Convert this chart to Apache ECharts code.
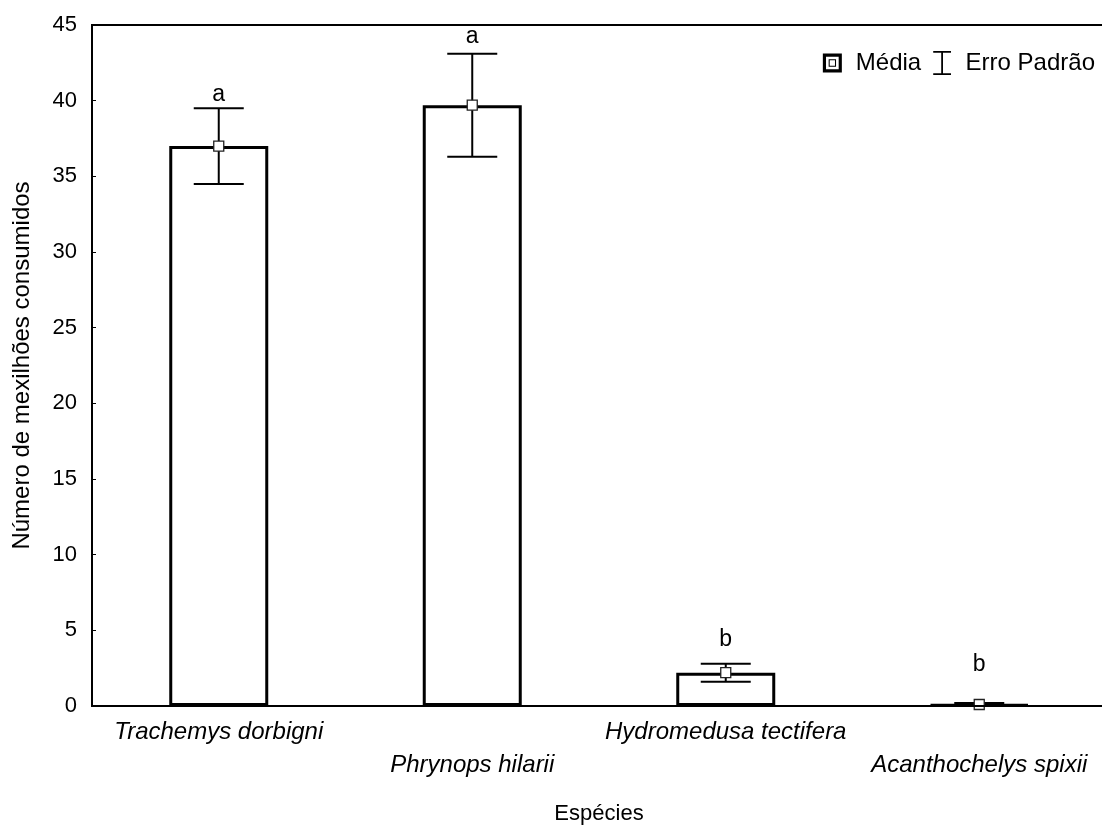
<!DOCTYPE html>
<html>
<head>
<meta charset="utf-8">
<script src="https://cdn.jsdelivr.net/npm/echarts@6/dist/echarts.min.js"></script>
<style>
  html, body { margin: 0; padding: 0; background: #fff; }
  #chart { width: 1102px; height: 825px; }
</style>
</head>
<body>
<div id="chart"></div>
<script>
// Mussels consumed per turtle species: mean ± standard error
const species = ['Trachemys dorbigni', 'Phrynops hilarii', 'Hydromedusa tectifera', 'Acanthochelys spixii'];
const means = [37.0, 39.7, 2.2, 0.1];
const stdErr = [2.5, 3.4, 0.6, 0.1];
const groupLetters = ['a', 'a', 'b', 'b'];
const letterLevel = [40.4, 44.2, 4.4, 2.7];
const yTicks = { min: 0, max: 45, step: 5 };

const FONT = "'Liberation Sans', Arial, sans-serif";

const errorData = species.map((s, i) => [i, means[i] - stdErr[i], means[i] + stdErr[i]]);
const letterData = species.map((s, i) => [i, letterLevel[i], groupLetters[i]]);

const chart = echarts.init(document.getElementById('chart'));

chart.setOption({
  backgroundColor: '#fff',
  animation: false,
  textStyle: { fontFamily: FONT, color: '#000' },
  grid: {
    left: 92, top: 25, width: 1014, height: 681,
    outerBoundsMode: 'none',
    containLabel: false,
    show: true, borderColor: '#000', borderWidth: 2, backgroundColor: 'transparent'
  },
  legend: {
    top: 46, right: 2,
    itemGap: 12,
    textStyle: { fontFamily: FONT, fontSize: 24, color: '#000', padding: [0, 0, 0, 9] },
    data: [
      {
        name: 'Média',
        icon: 'path://M0,0H18V18H0Z M3,3V15H15V3Z M5.5,5.5H12.5V12.5H5.5Z M6.5,6.5V11.5H11.5V6.5Z',
        itemStyle: { color: '#000', borderWidth: 0, opacity: 1 }
      },
      {
        name: 'Erro Padrão',
        icon: 'path://M0,0H20V2H0Z M9,2H11V25H9Z M0,25H20V27H0Z',
        itemStyle: { color: '#000', borderWidth: 0, opacity: 1 }
      }
    ],
    itemWidth: 19, itemHeight: 24
  },
  xAxis: {
    type: 'category',
    data: species,
    z: 10,
    axisLine: { lineStyle: { color: '#000', width: 2 } },
    axisTick: { alignWithLabel: true, inside: true, length: 4, lineStyle: { color: '#000', width: 1 } },
    axisLabel: {
      interval: 0,
      margin: 10,
      fontFamily: FONT,
      fontSize: 24,
      fontStyle: 'italic',
      color: '#000',
      lineHeight: 33,
      hideOverlap: false,
      formatter: (v, i) => (i % 2 === 1 ? '\n' + v : v)
    },
    name: 'Espécies',
    nameLocation: 'middle',
    nameGap: 97,
    nameTextStyle: { fontFamily: FONT, fontSize: 22, color: '#000' }
  },
  yAxis: {
    type: 'value',
    min: yTicks.min, max: yTicks.max, interval: yTicks.step,
    z: 10,
    axisLine: { show: true, lineStyle: { color: '#000', width: 2 } },
    axisTick: { show: true, inside: true, length: 4, lineStyle: { color: '#000', width: 1 } },
    axisLabel: { margin: 15, fontFamily: FONT, fontSize: 22, color: '#000' },
    splitLine: { show: false },
    name: 'Número de mexilhões consumidos',
    nameLocation: 'middle',
    nameGap: 58,
    nameTextStyle: { fontFamily: FONT, fontSize: 24, color: '#000' }
  },
  series: [
    {
      name: 'Barras',
      type: 'bar',
      data: means,
      barWidth: 99,
      itemStyle: { color: '#fff', borderColor: '#000', borderWidth: 3 },
      z: 2
    },
    {
      name: 'Erro Padrão',
      type: 'custom',
      data: errorData,
      z: 4,
      itemStyle: { color: '#000' },
      renderItem: (params, api) => {
        const x = api.value(0);
        const lo = api.coord([x, api.value(1)]);
        const hi = api.coord([x, api.value(2)]);
        const half = 25;
        const style = { stroke: '#000', lineWidth: 2 };
        return {
          type: 'group',
          children: [
            { type: 'line', shape: { x1: hi[0], y1: hi[1], x2: lo[0], y2: lo[1] }, style },
            { type: 'line', shape: { x1: hi[0] - half, y1: hi[1], x2: hi[0] + half, y2: hi[1] }, style },
            { type: 'line', shape: { x1: lo[0] - half, y1: lo[1], x2: lo[0] + half, y2: lo[1] }, style }
          ]
        };
      }
    },
    {
      name: 'Média',
      type: 'scatter',
      data: means.map((m, i) => [i, m]),
      symbol: 'rect',
      symbolSize: 10,
      itemStyle: { color: '#fff', borderColor: '#222', borderWidth: 1.3, opacity: 1 },
      z: 6
    },
    {
      name: 'Letras',
      type: 'scatter',
      data: letterData,
      symbolSize: 0,
      silent: true,
      itemStyle: { opacity: 1 },
      label: {
        show: true,
        position: 'inside',
        formatter: (p) => p.data[2],
        fontFamily: FONT,
        fontSize: 23,
        color: '#000',
        textBorderWidth: 0
      },
      z: 6
    }
  ]
});
</script>
</body>
</html>
